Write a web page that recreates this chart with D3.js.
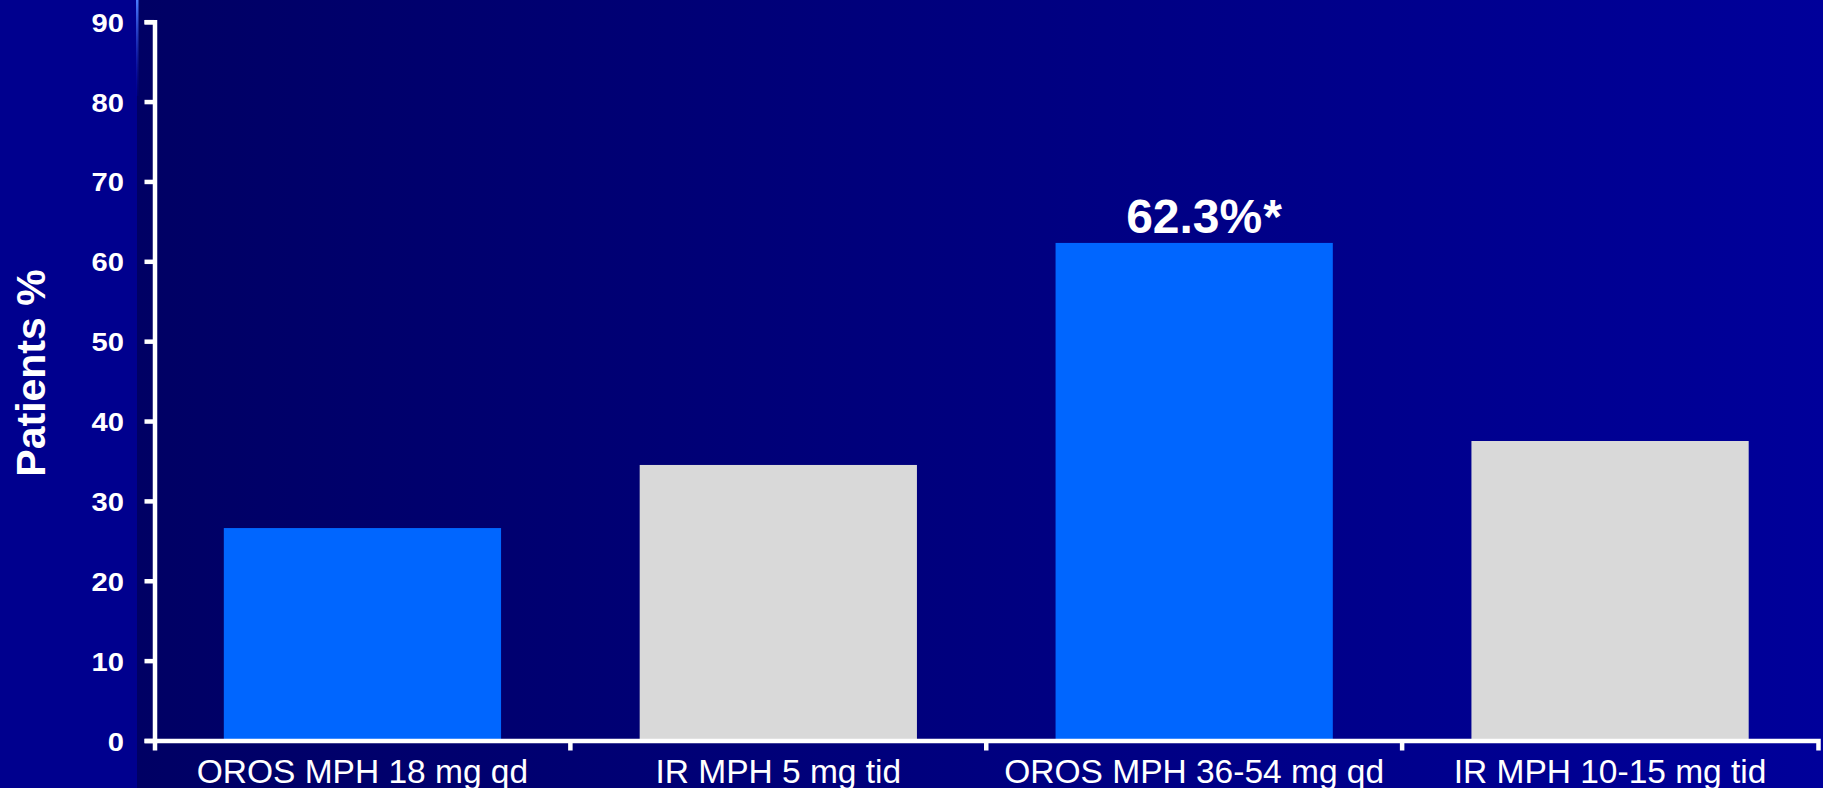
<!DOCTYPE html>
<html>
<head>
<meta charset="utf-8">
<script src="https://cdn.jsdelivr.net/npm/d3@7"></script>
<style>
  html, body { margin: 0; padding: 0; background: #00008e; overflow: hidden; }
  svg { display: block; font-family: "Liberation Sans", Arial, sans-serif; }
</style>
</head>
<body>
<svg id="chart" width="1823" height="788"></svg>
<script>
// Treatment groups, response rates (%) and bar fills
const categories = ["OROS MPH 18 mg qd", "IR MPH 5 mg tid", "OROS MPH 36-54 mg qd", "IR MPH 10-15 mg tid"];
const values = [26.6, 34.5, 62.3, 37.5];
const barColors = ["#0066ff", "#d9d9d9", "#0066ff", "#d9d9d9"];
const yTicks = [0, 10, 20, 30, 40, 50, 60, 70, 80, 90];
const valueLabels = ["", "", "62.3%", ""];
const valueMarks = ["", "", "*", ""];
const yTitle = "Patients %";

const W = 1823, H = 788;
const svg = d3.select("#chart");
const defs = svg.append("defs");

// Slide background: lighter strip on the left, horizontal gradient behind the plot
const bg = defs.append("linearGradient").attr("id", "bgGrad")
  .attr("x1", 0).attr("x2", 1).attr("y1", 0).attr("y2", 0);
bg.append("stop").attr("offset", 0).attr("stop-color", "#000064");
bg.append("stop").attr("offset", 1).attr("stop-color", "#00009a");

const accent = defs.append("linearGradient").attr("id", "accentGrad")
  .attr("x1", 0).attr("x2", 0).attr("y1", 0).attr("y2", 1);
accent.append("stop").attr("offset", 0).attr("stop-color", "#4a7dff");
accent.append("stop").attr("offset", 1).attr("stop-color", "#0000a0").attr("stop-opacity", 0.2);

svg.append("rect").attr("x", 0).attr("y", 0).attr("width", W).attr("height", H).attr("fill", "#00008e");
svg.append("rect").attr("x", 137).attr("y", 0).attr("width", W - 137).attr("height", H).attr("fill", "url(#bgGrad)");
svg.append("rect").attr("x", 136).attr("y", 0).attr("width", 2.5).attr("height", 96).attr("fill", "url(#accentGrad)");

// Scales
const x = d3.scaleBand().domain(categories).range([154.5, 1818])
  .paddingInner(1 / 3).paddingOuter(1 / 6);
const y = d3.scaleLinear().domain([0, 90]).range([740.5, 21.7]);

// Bars
svg.append("g").selectAll("rect").data(categories).join("rect")
  .attr("x", d => x(d))
  .attr("width", x.bandwidth())
  .attr("y", (d, i) => y(values[i]))
  .attr("height", (d, i) => y(0) - y(values[i]))
  .attr("fill", (d, i) => barColors[i]);

// Value label above the highlighted bar
const lab = svg.append("g");
categories.forEach((c, i) => {
  if (!valueLabels[i]) return;
  const cx = x(c) + x.bandwidth() / 2;
  const t = lab.append("text")
    .attr("x", cx).attr("y", y(values[i]) - 10)
    .attr("text-anchor", "middle")
    .attr("fill", "#ffffff").attr("font-weight", "bold").attr("font-size", 48)
    .text(valueLabels[i]);
  const w = t.node().getComputedTextLength();
  lab.append("text")
    .attr("x", cx + w / 2 + 1).attr("y", y(values[i]) - 10)
    .attr("fill", "#ffffff").attr("font-weight", "bold").attr("font-size", 48)
    .text(valueMarks[i]);
});

// Y axis (tick numerals drawn slightly widened)
const numStretch = 1.1;
const yAxis = svg.append("g").attr("transform", `translate(${x.range()[0]},0)`)
  .call(d3.axisLeft(y).tickValues(yTicks).tickSize(10).tickSizeOuter(10).tickPadding(20));
yAxis.select(".domain").attr("stroke", "#ffffff").attr("stroke-width", 4.5).attr("fill", "none");
yAxis.selectAll(".tick line").attr("stroke", "#ffffff").attr("stroke-width", 4.5);
yAxis.selectAll(".tick text")
  .attr("fill", "#ffffff").attr("font-size", 26.5).attr("font-weight", "bold")
  .attr("font-family", "'Liberation Sans', Arial, sans-serif")
  .attr("dy", "0.36em")
  .attr("x", -30.5 / numStretch)
  .attr("transform", `scale(${numStretch},1)`);

// X axis with category labels, ticks at group boundaries
const xAxis = svg.append("g").attr("transform", `translate(0,${y(0)})`)
  .call(d3.axisBottom(x).tickSizeInner(0).tickSizeOuter(10).tickPadding(0));
xAxis.select(".domain").attr("stroke", "#ffffff").attr("stroke-width", 4.5).attr("fill", "none");
xAxis.selectAll(".tick line").remove();
xAxis.selectAll(".tick text")
  .attr("fill", "#ffffff").attr("font-size", 33.5)
  .attr("font-family", "'Liberation Sans', Arial, sans-serif")
  .attr("dy", null).attr("y", 42);

const step = x.step();
const boundaries = categories.slice(1).map(c => x(c) - (step - x.bandwidth()) / 2);
xAxis.selectAll("line.sep").data(boundaries).join("line").attr("class", "sep")
  .attr("x1", d => d).attr("x2", d => d).attr("y1", 0).attr("y2", 10)
  .attr("stroke", "#ffffff").attr("stroke-width", 4.5);

// Y axis title
svg.append("text")
  .attr("transform", `translate(45,${373}) rotate(-90)`)
  .attr("text-anchor", "middle")
  .attr("fill", "#ffffff").attr("font-weight", "bold").attr("font-size", 41)
  .text(yTitle);
</script>
</body>
</html>
